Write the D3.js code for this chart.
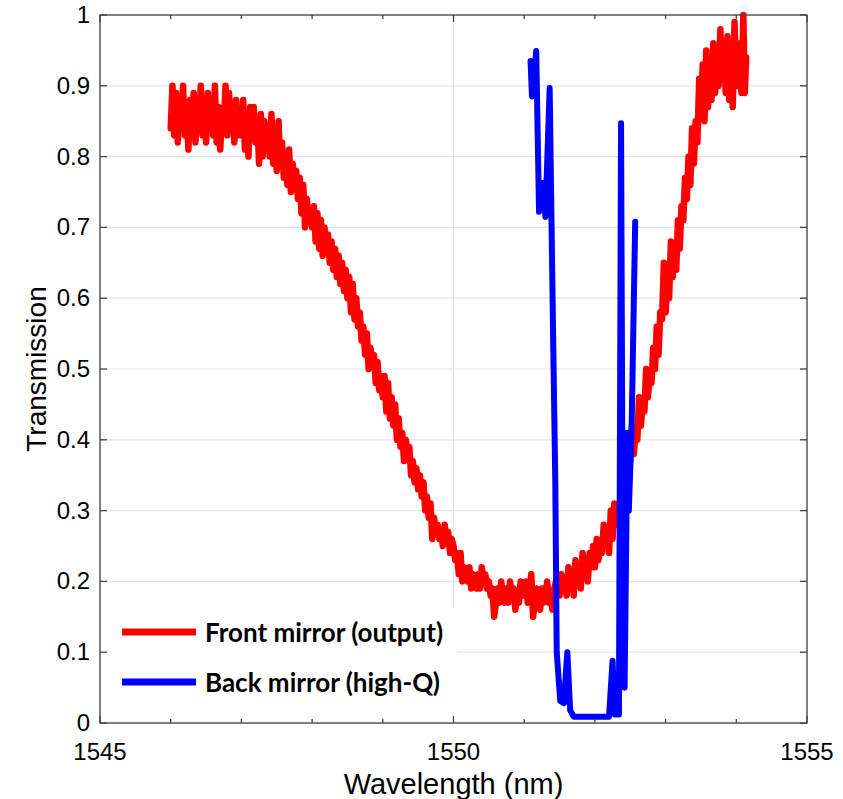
<!doctype html>
<html lang="en">
<head>
    <meta charset="utf-8"/>
    <title>Transmission</title>
    <script src="https://d3js.org/d3.v7.min.js"></script>
    <style>
        body { margin: 0; background: #fff; }
    </style>
</head>
<body>
<svg id="chart"></svg>
<script>
    // front mirror (red)
    const redWl = [
        1546.000, 1546.025, 1546.050, 1546.075, 1546.100, 1546.125, 1546.150, 1546.175, 1546.200, 1546.225,
        1546.250, 1546.275, 1546.300, 1546.325, 1546.350, 1546.375, 1546.400, 1546.425, 1546.450, 1546.475,
        1546.500, 1546.525, 1546.550, 1546.575, 1546.600, 1546.625, 1546.650, 1546.675, 1546.700, 1546.725,
        1546.750, 1546.775, 1546.800, 1546.825, 1546.850, 1546.875, 1546.900, 1546.925, 1546.950, 1546.975,
        1547.000, 1547.025, 1547.050, 1547.075, 1547.100, 1547.125, 1547.150, 1547.175, 1547.200, 1547.225,
        1547.250, 1547.275, 1547.300, 1547.325, 1547.350, 1547.375, 1547.400, 1547.425, 1547.450, 1547.475,
        1547.500, 1547.525, 1547.550, 1547.575, 1547.600, 1547.625, 1547.650, 1547.675, 1547.700, 1547.725,
        1547.750, 1547.775, 1547.800, 1547.825, 1547.850, 1547.875, 1547.900, 1547.925, 1547.950, 1547.975,
        1548.000, 1548.025, 1548.050, 1548.075, 1548.100, 1548.125, 1548.150, 1548.175, 1548.200, 1548.225,
        1548.250, 1548.275, 1548.300, 1548.325, 1548.350, 1548.375, 1548.400, 1548.425, 1548.450, 1548.475,
        1548.500, 1548.525, 1548.550, 1548.575, 1548.600, 1548.625, 1548.650, 1548.675, 1548.700, 1548.725,
        1548.750, 1548.775, 1548.800, 1548.825, 1548.850, 1548.875, 1548.900, 1548.925, 1548.950, 1548.975,
        1549.000, 1549.025, 1549.050, 1549.075, 1549.100, 1549.125, 1549.150, 1549.175, 1549.200, 1549.225,
        1549.250, 1549.275, 1549.300, 1549.325, 1549.350, 1549.375, 1549.400, 1549.425, 1549.450, 1549.475,
        1549.500, 1549.525, 1549.550, 1549.575, 1549.600, 1549.625, 1549.650, 1549.675, 1549.700, 1549.725,
        1549.750, 1549.775, 1549.800, 1549.825, 1549.850, 1549.875, 1549.900, 1549.925, 1549.950, 1549.975,
        1550.000, 1550.025, 1550.050, 1550.075, 1550.100, 1550.125, 1550.150, 1550.175, 1550.200, 1550.225,
        1550.250, 1550.275, 1550.300, 1550.325, 1550.350, 1550.375, 1550.400, 1550.425, 1550.450, 1550.475,
        1550.500, 1550.525, 1550.550, 1550.575, 1550.600, 1550.625, 1550.650, 1550.675, 1550.700, 1550.725,
        1550.750, 1550.775, 1550.800, 1550.825, 1550.850, 1550.875, 1550.900, 1550.925, 1550.950, 1550.975,
        1551.000, 1551.025, 1551.050, 1551.075, 1551.100, 1551.125, 1551.150, 1551.175, 1551.200, 1551.225,
        1551.250, 1551.275, 1551.300, 1551.325, 1551.350, 1551.375, 1551.400, 1551.425, 1551.450, 1551.475,
        1551.500, 1551.525, 1551.550, 1551.575, 1551.600, 1551.625, 1551.650, 1551.675, 1551.700, 1551.725,
        1551.750, 1551.775, 1551.800, 1551.825, 1551.850, 1551.875, 1551.900, 1551.925, 1551.950, 1551.975,
        1552.000, 1552.025, 1552.050, 1552.075, 1552.100, 1552.125, 1552.150, 1552.175, 1552.200, 1552.225,
        1552.250, 1552.275, 1552.300, 1552.325, 1552.350, 1552.375, 1552.400, 1552.425, 1552.450, 1552.475,
        1552.500, 1552.525, 1552.550, 1552.575, 1552.600, 1552.625, 1552.650, 1552.675, 1552.700, 1552.725,
        1552.750, 1552.775, 1552.800, 1552.825, 1552.850, 1552.875, 1552.900, 1552.925, 1552.950, 1552.975,
        1553.000, 1553.025, 1553.050, 1553.075, 1553.100, 1553.125, 1553.150, 1553.175, 1553.200, 1553.225,
        1553.250, 1553.275, 1553.300, 1553.325, 1553.350, 1553.375, 1553.400, 1553.425, 1553.450, 1553.475,
        1553.500, 1553.525, 1553.550, 1553.575, 1553.600, 1553.625, 1553.650, 1553.675, 1553.700, 1553.725,
        1553.750, 1553.775, 1553.800, 1553.825, 1553.850, 1553.875, 1553.900, 1553.925, 1553.950, 1553.975,
        1554.000, 1554.025, 1554.050, 1554.075, 1554.100, 1554.120, 1554.140
    ];
    const redT = [
        0.84, 0.90, 0.83, 0.89, 0.82, 0.88, 0.85, 0.90, 0.83, 0.87, 0.81, 0.88, 0.84, 0.89, 0.82, 0.87, 0.84, 0.90, 0.83, 0.88,
        0.82, 0.89, 0.84, 0.88, 0.83, 0.90, 0.82, 0.87, 0.81, 0.86, 0.84, 0.90, 0.83, 0.89, 0.84, 0.87, 0.82, 0.88, 0.83, 0.86,
        0.83, 0.88, 0.81, 0.86, 0.80, 0.87, 0.83, 0.87, 0.82, 0.85, 0.79, 0.86, 0.80, 0.85, 0.82, 0.84, 0.80, 0.86, 0.79, 0.84,
        0.78, 0.85, 0.79, 0.82, 0.77, 0.80, 0.76, 0.81, 0.75, 0.79, 0.76, 0.78, 0.74, 0.77, 0.72, 0.76, 0.70, 0.74, 0.71, 0.72,
        0.70, 0.73, 0.68, 0.72, 0.67, 0.71, 0.66, 0.70, 0.67, 0.69, 0.65, 0.68, 0.64, 0.67, 0.63, 0.66, 0.62, 0.65, 0.61, 0.64,
        0.60, 0.63, 0.58, 0.62, 0.57, 0.60, 0.56, 0.58, 0.54, 0.56, 0.52, 0.55, 0.50, 0.53, 0.51, 0.52, 0.48, 0.51, 0.47, 0.49,
        0.46, 0.49, 0.44, 0.48, 0.43, 0.46, 0.42, 0.45, 0.40, 0.43, 0.39, 0.41, 0.37, 0.40, 0.38, 0.39, 0.35, 0.37, 0.34, 0.36,
        0.33, 0.35, 0.32, 0.34, 0.30, 0.32, 0.29, 0.31, 0.26, 0.29, 0.27, 0.28, 0.26, 0.27, 0.25, 0.28, 0.26, 0.27, 0.24, 0.26,
        0.25, 0.23, 0.24, 0.21, 0.24, 0.20, 0.22, 0.21, 0.20, 0.22, 0.19, 0.21, 0.20, 0.19, 0.21, 0.19, 0.22, 0.20, 0.21, 0.19,
        0.20, 0.18, 0.19, 0.15, 0.17, 0.19, 0.17, 0.20, 0.18, 0.17, 0.19, 0.17, 0.20, 0.18, 0.19, 0.16, 0.18, 0.17, 0.20, 0.18,
        0.18, 0.20, 0.17, 0.19, 0.21, 0.15, 0.17, 0.19, 0.18, 0.16, 0.19, 0.17, 0.18, 0.20, 0.17, 0.18, 0.16, 0.19, 0.20, 0.18,
        0.18, 0.21, 0.19, 0.20, 0.18, 0.22, 0.19, 0.21, 0.18, 0.23, 0.20, 0.22, 0.19, 0.24, 0.21, 0.23, 0.20, 0.24, 0.22, 0.25,
        0.22, 0.26, 0.23, 0.25, 0.24, 0.28, 0.25, 0.27, 0.24, 0.30, 0.26, 0.31, 0.28, 0.30, 0.29, 0.33, 0.30, 0.34, 0.32, 0.37,
        0.37, 0.42, 0.38, 0.41, 0.40, 0.46, 0.42, 0.45, 0.44, 0.50, 0.46, 0.49, 0.48, 0.53, 0.50, 0.56, 0.52, 0.58, 0.57, 0.65,
        0.58, 0.62, 0.60, 0.68, 0.63, 0.67, 0.64, 0.71, 0.67, 0.73, 0.71, 0.77, 0.74, 0.80, 0.76, 0.84, 0.79, 0.85, 0.82, 0.91,
        0.86, 0.93, 0.85, 0.95, 0.87, 0.94, 0.88, 0.96, 0.89, 0.95, 0.90, 0.98, 0.91, 0.96, 0.89, 0.97, 0.88, 0.95, 0.87, 0.99,
        0.90, 0.96, 0.91, 0.89, 1.00, 0.89, 0.94
    ];

    // back mirror (blue)
    const blueWl = [
        1551.09, 1551.11, 1551.17, 1551.21, 1551.27, 1551.30, 1551.36, 1551.41, 1551.44, 1551.46,
        1551.51, 1551.56, 1551.61, 1551.65, 1551.70, 1552.20, 1552.25, 1552.28, 1552.34, 1552.37,
        1552.40, 1552.42, 1552.46, 1552.48, 1552.52, 1552.57
    ];
    const blueT = [
        0.935, 0.885, 0.949, 0.722, 0.763, 0.715, 0.897, 0.54, 0.34, 0.10,
        0.031, 0.028, 0.10, 0.018, 0.009, 0.009, 0.088, 0.012, 0.012, 0.847,
        0.059, 0.05, 0.41, 0.30, 0.42, 0.708
    ];

    const xTicks = [1545, 1550, 1555];
    const xMinorTicks = [1546, 1547, 1548, 1549, 1551, 1552, 1553, 1554];
    const yTicks = [0, 0.1, 0.2, 0.3, 0.4, 0.5, 0.6, 0.7, 0.8, 0.9, 1];
    const legendLabels = ["Front mirror (output)", "Back mirror (high-Q)"];
    const legendColors = ["#ff0000", "#0000ff"];

    let width = 843,
        height = 799,
        margin = {top: 15, right: 36, bottom: 76, left: 100};

    var svg = d3.select("#chart")
        .attr("width", width)
        .attr("height", height);

    let x = d3.scaleLinear()
        .domain([1545, 1555])
        .range([margin.left, width - margin.right]);

    let y = d3.scaleLinear()
        .domain([0, 1])
        .range([height - margin.bottom, margin.top]);

    const x0 = x.range()[0], x1 = x.range()[1];
    const y0 = y.range()[0], y1 = y.range()[1];

    // grid
    var grid = svg.append("g");
    grid.selectAll("line.gy")
        .data(yTicks)
        .enter()
        .append("line")
        .attr("x1", x0).attr("x2", x1)
        .attr("y1", d => y(d)).attr("y2", d => y(d))
        .attr("stroke", "#e3e3e3")
        .attr("stroke-width", 1.2);
    grid.selectAll("line.gx")
        .data(xTicks)
        .enter()
        .append("line")
        .attr("x1", d => x(d)).attr("x2", d => x(d))
        .attr("y1", y0).attr("y2", y1)
        .attr("stroke", "#e3e3e3")
        .attr("stroke-width", 1.2);

    // data
    let line = d3.line()
        .x(d => x(d[0]))
        .y(d => y(d[1]));

    svg.append("path")
        .datum(redWl.map((w, i) => [w, redT[i]]))
        .attr("d", line)
        .attr("fill", "none")
        .attr("stroke", "#ff0000")
        .attr("stroke-width", 6.5)
        .attr("stroke-linejoin", "round")
        .attr("stroke-linecap", "round");

    svg.append("path")
        .datum(blueWl.map((w, i) => [w, blueT[i]]))
        .attr("d", line)
        .attr("fill", "none")
        .attr("stroke", "#0000ff")
        .attr("stroke-width", 6)
        .attr("stroke-linejoin", "round")
        .attr("stroke-linecap", "round");

    // legend (white box, no border)
    var legend = svg.append("g");
    legend.append("rect")
        .attr("x", x0 + 1)
        .attr("y", 607)
        .attr("width", 356)
        .attr("height", y0 - 607 - 1)
        .attr("fill", "#fff");
    legendLabels.forEach((lab, i) => {
        let ly = 632 + i * 50;
        legend.append("line")
            .attr("x1", 122).attr("x2", 196)
            .attr("y1", ly).attr("y2", ly)
            .attr("stroke", legendColors[i])
            .attr("stroke-width", 7);
        legend.append("text")
            .attr("x", 205)
            .attr("y", ly + 10)
            .attr("font-family", "Lato, 'Open Sans', sans-serif")
            .attr("font-weight", "bold")
            .attr("font-size", 26)
            .attr("fill", "#000")
            .text(lab);
    });

    // axes box
    var axes = svg.append("g")
        .attr("stroke", "#444")
        .attr("stroke-width", 1.3);
    axes.append("rect")
        .attr("x", x0).attr("y", y1)
        .attr("width", x1 - x0).attr("height", y0 - y1)
        .attr("fill", "none");

    // ticks, pointing inward on all four sides
    yTicks.forEach(t => {
        axes.append("line").attr("x1", x0).attr("x2", x0 + 7).attr("y1", y(t)).attr("y2", y(t));
        axes.append("line").attr("x1", x1).attr("x2", x1 - 7).attr("y1", y(t)).attr("y2", y(t));
    });
    xTicks.forEach(t => {
        axes.append("line").attr("x1", x(t)).attr("x2", x(t)).attr("y1", y0).attr("y2", y0 - 7);
        axes.append("line").attr("x1", x(t)).attr("x2", x(t)).attr("y1", y1).attr("y2", y1 + 7);
    });
    xMinorTicks.forEach(t => {
        axes.append("line").attr("x1", x(t)).attr("x2", x(t)).attr("y1", y0).attr("y2", y0 - 4);
        axes.append("line").attr("x1", x(t)).attr("x2", x(t)).attr("y1", y1).attr("y2", y1 + 4);
    });

    // tick labels
    let fmt = d3.format("~g");
    svg.selectAll("text.ylab")
        .data(yTicks)
        .enter()
        .append("text")
        .attr("x", x0 - 10)
        .attr("y", d => y(d) + 8)
        .attr("text-anchor", "end")
        .attr("font-family", "'Liberation Sans', Arial, sans-serif")
        .attr("font-size", 24)
        .attr("fill", "#000")
        .text(d => fmt(d));

    svg.selectAll("text.xlab")
        .data(xTicks)
        .enter()
        .append("text")
        .attr("x", d => x(d))
        .attr("y", y0 + 37)
        .attr("text-anchor", "middle")
        .attr("font-family", "'Liberation Sans', Arial, sans-serif")
        .attr("font-size", 24)
        .attr("fill", "#000")
        .text(d => d);

    // axis titles
    svg.append("text")
        .attr("x", (x0 + x1) / 2)
        .attr("y", 794)
        .attr("text-anchor", "middle")
        .attr("font-family", "'Liberation Sans', Arial, sans-serif")
        .attr("font-size", 29)
        .attr("fill", "#000")
        .text("Wavelength (nm)");

    svg.append("text")
        .attr("transform", "translate(46," + ((y0 + y1) / 2) + ") rotate(-90)")
        .attr("text-anchor", "middle")
        .attr("font-family", "'Liberation Sans', Arial, sans-serif")
        .attr("font-size", 28)
        .attr("fill", "#000")
        .text("Transmission");
</script>
</body>
</html>
